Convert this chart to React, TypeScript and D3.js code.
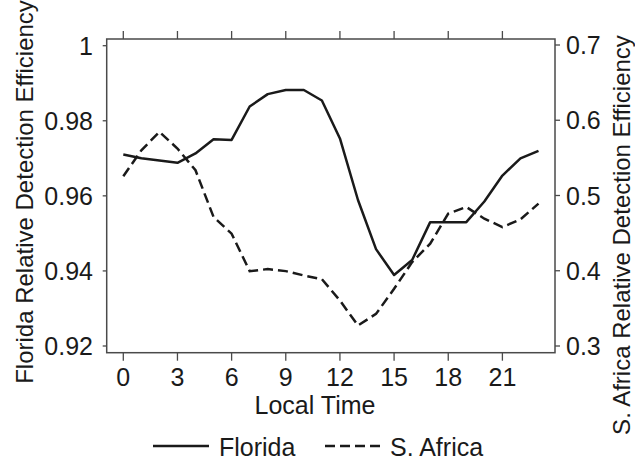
import * as d3 from "d3";

const hours = d3.range(0, 24);
const floridaValues = [
  0.971, 0.97, 0.9694, 0.9688, 0.9713, 0.9751, 0.9749, 0.9838, 0.9871, 0.9882,
  0.9882, 0.9854, 0.9753, 0.9589, 0.9458, 0.9389, 0.9429, 0.953, 0.953, 0.953,
  0.9585, 0.9654, 0.97, 0.972,
];
const africaValues = [
  0.5256, 0.56, 0.5846, 0.5624, 0.5336, 0.4714, 0.4493, 0.3995, 0.4022, 0.3995,
  0.3937, 0.3888, 0.3605, 0.3272, 0.3427, 0.376, 0.4115, 0.436, 0.4759, 0.4847,
  0.4692, 0.458, 0.4683, 0.4892,
];
const xTicks = [0, 3, 6, 9, 12, 15, 18, 21];
const leftTicks = [0.92, 0.94, 0.96, 0.98, 1];
const leftTickLabels = ["0.92", "0.94", "0.96", "0.98", "1"];
const rightTicks = [0.3, 0.4, 0.5, 0.6, 0.7];
const rightTickLabels = ["0.3", "0.4", "0.5", "0.6", "0.7"];

const width = 635;
const height = 461;
const box = { left: 106.7, right: 555, top: 39, bottom: 352.7 };
const font = "'Liberation Sans', Arial, Helvetica, sans-serif";
const fontSize = 25;
const titleSize = 24;
const textColor = "#1a1a1a";
const axisColor = "#4a4a4a";
const lineColor = "#1a1a1a";

export default function App() {
  const x = d3.scaleLinear().domain([0, 21]).range([123.3, 502.4]);
  const yLeft = d3.scaleLinear().domain([0.92, 1]).range([346, 45.7]);
  const yRight = d3.scaleLinear().domain([0.3, 0.7]).range([346, 45]);

  const floridaLine = d3
    .line<number>()
    .x((_, i) => x(hours[i]))
    .y((d) => yLeft(d));
  const africaLine = d3
    .line<number>()
    .x((_, i) => x(hours[i]))
    .y((d) => yRight(d));

  return (
    <svg
      width={width}
      height={height}
      style={{ position: "absolute", left: 0, top: 0, background: "#fff" }}
      fontFamily={font}
    >
      <rect
        x={box.left}
        y={box.top}
        width={box.right - box.left}
        height={box.bottom - box.top}
        fill="none"
        stroke={axisColor}
        strokeWidth={1.5}
      />
      {xTicks.map((t) => (
        <g key={`x${t}`}>
          <line x1={x(t)} x2={x(t)} y1={box.top} y2={box.top - 8} stroke={axisColor} strokeWidth={1.3} />
          <line x1={x(t)} x2={x(t)} y1={box.bottom} y2={box.bottom + 8} stroke={axisColor} strokeWidth={1.3} />
          <text x={x(t)} y={385.5} textAnchor="middle" fontSize={fontSize} fill={textColor}>
            {t}
          </text>
        </g>
      ))}
      {leftTicks.map((t, i) => (
        <g key={`l${t}`}>
          <line x1={box.left} x2={box.left - 4} y1={yLeft(t)} y2={yLeft(t)} stroke={axisColor} strokeWidth={1.3} />
          <text
            x={93}
            y={yLeft(t)}
            dy="0.36em"
            textAnchor="end"
            fontSize={fontSize}
            fill={textColor}
          >
            {leftTickLabels[i]}
          </text>
        </g>
      ))}
      {rightTicks.map((t, i) => (
        <g key={`r${t}`}>
          <line x1={box.right} x2={box.right + 5} y1={yRight(t)} y2={yRight(t)} stroke={axisColor} strokeWidth={1.3} />
          <text
            x={566}
            y={yRight(t)}
            dy="0.36em"
            textAnchor="start"
            fontSize={fontSize}
            fill={textColor}
          >
            {rightTickLabels[i]}
          </text>
        </g>
      ))}
      <path
        d={floridaLine(floridaValues) ?? ""}
        fill="none"
        stroke={lineColor}
        strokeWidth={2.5}
        strokeLinejoin="round"
      />
      <path
        d={africaLine(africaValues) ?? ""}
        fill="none"
        stroke={lineColor}
        strokeWidth={2.5}
        strokeDasharray="10,5"
      />
      <text x={315} y={414} textAnchor="middle" fontSize={fontSize} fill={textColor}>
        Local Time
      </text>
      <text
        transform="translate(33, 192) rotate(-90)"
        textAnchor="middle"
        fontSize={titleSize}
        fill={textColor}
      >
        Florida Relative Detection Efficiency
      </text>
      <text
        transform="translate(630, 235) rotate(-90)"
        textAnchor="middle"
        fontSize={titleSize}
        fill={textColor}
      >
        S. Africa Relative Detection Efficiency
      </text>
      <line x1={153} x2={209} y1={446} y2={446} stroke={lineColor} strokeWidth={2.5} />
      <text x={219} y={456} fontSize={fontSize} fill={textColor}>
        Florida
      </text>
      <line
        x1={325}
        x2={380}
        y1={446}
        y2={446}
        stroke={lineColor}
        strokeWidth={2.5}
        strokeDasharray="10,5"
      />
      <text x={390} y={456} fontSize={fontSize} fill={textColor}>
        S. Africa
      </text>
    </svg>
  );
}
